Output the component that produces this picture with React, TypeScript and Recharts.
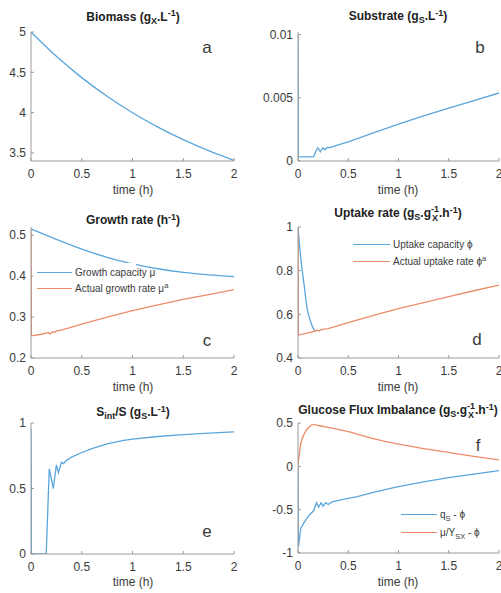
import React from 'react';
import { LineChart, Line, XAxis, YAxis } from 'recharts';

const BLUE = '#5aa6dc';
const ORANGE = '#ec8c69';
const AXIS = '#9a9a9a';
const TEXT = '#3a3a3a';
const FONT = '"Liberation Sans", Arial, Helvetica, sans-serif';

const timeTicks = [0, 0.5, 1, 1.5, 2];

// a: Biomass
const biomassTime = [0, 0.25, 0.5, 0.75, 1, 1.25, 1.5, 1.75, 2];
const biomassValues = [5, 4.698, 4.434, 4.202, 3.999, 3.821, 3.665, 3.528, 3.408];
const biomassTicks = [3.5, 4, 4.5, 5];

// b: Substrate
const substrateTime = [0, 0.004, 0.05, 0.1, 0.155, 0.175, 0.197, 0.223, 0.246, 0.266, 0.29, 0.316, 0.4, 0.5, 0.75, 1, 1.25, 1.5, 1.75, 2];
const substrateValues = [0.01, 0.00034, 0.00033, 0.00033, 0.00034, 0.0007, 0.00105, 0.00073, 0.00105, 0.00089, 0.00108, 0.00106, 0.00128, 0.00152, 0.00222, 0.00292, 0.00356, 0.00418, 0.00478, 0.00538];
const substrateTicks = [0, 0.005, 0.01];

// c: Growth rate
const growthCapTime = [0, 0.1, 0.25, 0.5, 0.75, 1, 1.25, 1.5, 1.75, 2];
const growthCapValues = [0.515, 0.505, 0.49, 0.466, 0.446, 0.43, 0.418, 0.409, 0.403, 0.399];
const actualGrowthTime = [0, 0.004, 0.1, 0.17, 0.19, 0.21, 0.23, 0.25, 0.3, 0.5, 0.75, 1, 1.25, 1.5, 1.75, 2];
const actualGrowthValues = [0.512, 0.254, 0.258, 0.262, 0.259, 0.264, 0.262, 0.266, 0.268, 0.283, 0.3, 0.316, 0.33, 0.343, 0.355, 0.367];
const growthTicks = [0.2, 0.3, 0.4, 0.5];

// d: Uptake rate
const uptakeCapTime = [0, 0.027, 0.06, 0.09, 0.125, 0.157, 0.175];
const uptakeCapValues = [1.0, 0.86, 0.737, 0.63, 0.567, 0.531, 0.522];
const actualUptakeTime = [0, 0.004, 0.1, 0.17, 0.19, 0.21, 0.23, 0.3, 0.5, 0.75, 1, 1.25, 1.5, 1.75, 2];
const actualUptakeValues = [0.98, 0.505, 0.515, 0.523, 0.528, 0.524, 0.53, 0.535, 0.562, 0.595, 0.626, 0.654, 0.681, 0.708, 0.734];
const uptakeTicks = [0.4, 0.6, 0.8, 1];

// e: Sint/S
const ratioTime = [0, 0.004, 0.15, 0.18, 0.22, 0.25, 0.27, 0.3, 0.32, 0.35, 0.4, 0.5, 0.6, 0.75, 0.9, 1, 1.25, 1.5, 1.75, 2];
const ratioValues = [0.95, 0, 0, 0.65, 0.5, 0.68, 0.62, 0.7, 0.69, 0.715, 0.74, 0.775, 0.805, 0.84, 0.865, 0.877, 0.897, 0.912, 0.923, 0.932];
const ratioTicks = [0, 0.5, 1];

// f: Glucose flux imbalance
const fluxQTime = [0, 0.004, 0.027, 0.06, 0.107, 0.157, 0.184, 0.206, 0.23, 0.25, 0.275, 0.3, 0.34, 0.45, 0.59, 0.75, 0.92, 1, 1.25, 1.5, 1.75, 2];
const fluxQValues = [0, -0.93, -0.72, -0.65, -0.57, -0.51, -0.42, -0.47, -0.42, -0.46, -0.42, -0.44, -0.41, -0.38, -0.35, -0.3, -0.255, -0.235, -0.18, -0.13, -0.09, -0.05];
const fluxMuTime = [0, 0.027, 0.06, 0.107, 0.157, 0.175, 0.25, 0.5, 0.75, 1, 1.25, 1.5, 1.75, 2];
const fluxMuValues = [0.02, 0.255, 0.37, 0.45, 0.485, 0.478, 0.46, 0.4, 0.32, 0.255, 0.205, 0.16, 0.115, 0.075];
const fluxTicks = [-1, -0.5, 0, 0.5];

const pts = (t: number[], v: number[]) => t.map((x, i) => ({ t: x, v: v[i] }));

type Box = { l: number; r: number; t: number; b: number };
type Series = { data: { t: number; v: number }[]; color: string; curve?: 'linear' | 'monotone' };

const Y_W = 50;
const PAD_T = 6;
const PAD_R = 20;
const X_H = 32;

function Panel({ box, yDomain, yTicks, series }: { box: Box; yDomain: [number, number]; yTicks: number[]; series: Series[] }) {
  const left = box.l - Y_W;
  const top = box.t - PAD_T;
  const width = box.r - box.l + Y_W + PAD_R;
  const height = box.b - box.t + PAD_T + X_H;
  const tickStyle = { fontSize: 12, fill: TEXT, fontFamily: FONT };
  return (
    <div style={{ position: 'absolute', left, top, width, height }}>
      <LineChart width={width} height={height} margin={{ top: PAD_T, right: PAD_R, bottom: 0, left: 0 }}>
        <XAxis xAxisId="x" type="number" dataKey="t" domain={[0, 2]} ticks={timeTicks} height={X_H} tickSize={-3} tickMargin={11} stroke={AXIS} tick={tickStyle} interval={0} allowDataOverflow />
        <XAxis xAxisId="xt" orientation="top" type="number" dataKey="t" domain={[0, 2]} ticks={timeTicks} height={0} tickSize={-3} tick={false} stroke={AXIS} interval={0} allowDataOverflow />
        <YAxis yAxisId="y" type="number" domain={yDomain} ticks={yTicks} width={Y_W} tickSize={-3} tickMargin={8} stroke={AXIS} tick={tickStyle} interval={0} allowDataOverflow />
        <YAxis yAxisId="yr" orientation="right" type="number" domain={yDomain} ticks={yTicks} width={0} tickSize={-3} tick={false} stroke={AXIS} interval={0} allowDataOverflow />
        {series.map((s, i) => (
          <Line key={i} xAxisId="x" yAxisId="y" data={s.data} dataKey="v" type={s.curve ?? 'linear'} stroke={s.color} strokeWidth={1.3} dot={false} activeDot={false} isAnimationActive={false} />
        ))}
      </LineChart>
    </div>
  );
}

const Sb = ({ c }: { c: string }) => <span style={{ position: 'relative', top: '0.35em', fontSize: '0.75em' }}>{c}</span>;
const Sp = ({ c }: { c: string }) => <span style={{ position: 'relative', top: '-0.5em', fontSize: '0.75em' }}>{c}</span>;
const SbSp = ({ b, p }: { b: string; p: string }) => (
  <span style={{ display: 'inline-grid', fontSize: '0.75em' }}>
    <span style={{ gridArea: '1 / 1', position: 'relative', top: '0.45em' }}>{b}</span>
    <span style={{ gridArea: '1 / 1', position: 'relative', top: '-0.6em' }}>{p}</span>
  </span>
);

function Title({ cx, cy, children }: { cx: number; cy: number; children: React.ReactNode }) {
  return (
    <div style={{ position: 'absolute', left: cx - 150, width: 300, top: cy - 8, height: 16, lineHeight: '16px', textAlign: 'center', fontWeight: 'bold', fontSize: 12, color: '#222', whiteSpace: 'nowrap' }}>
      {children}
    </div>
  );
}

function Lbl({ cx, cy, size, children }: { cx: number; cy: number; size: number; children: React.ReactNode }) {
  return (
    <div style={{ position: 'absolute', left: cx - 60, width: 120, top: cy - size * 0.6, height: size * 1.2, lineHeight: `${size * 1.2}px`, textAlign: 'center', fontSize: size, color: TEXT, whiteSpace: 'nowrap' }}>
      {children}
    </div>
  );
}

function LegendRow({ x1, x2, y, color, children }: { x1: number; x2: number; y: number; color: string; children: React.ReactNode }) {
  return (
    <>
      <div style={{ position: 'absolute', left: x1, top: y - 0.65, width: x2 - x1, height: 0, borderTop: `1.3px solid ${color}` }} />
      <div style={{ position: 'absolute', left: x2 + 3, top: y - 7, height: 14, lineHeight: '14px', fontSize: 10, color: TEXT, whiteSpace: 'nowrap' }}>{children}</div>
    </>
  );
}

const boxA: Box = { l: 31, r: 234, t: 32, b: 161 };
const boxB: Box = { l: 298, r: 499, t: 32, b: 161 };
const boxC: Box = { l: 31, r: 234, t: 227, b: 358 };
const boxD: Box = { l: 298, r: 499, t: 227, b: 358 };
const boxE: Box = { l: 31, r: 234, t: 423, b: 554 };
const boxF: Box = { l: 298, r: 499, t: 423, b: 553 };

export default function App() {
  return (
    <div style={{ position: 'absolute', left: 0, top: 0, width: 501, height: 593, overflow: 'hidden', background: '#fff', fontFamily: FONT }}>
      <Panel box={boxA} yDomain={[3.4, 5]} yTicks={biomassTicks} series={[{ data: pts(biomassTime, biomassValues), color: BLUE, curve: 'monotone' }]} />
      <Panel box={boxB} yDomain={[0, 0.0102]} yTicks={substrateTicks} series={[{ data: pts(substrateTime, substrateValues), color: BLUE }]} />
      <Panel box={boxC} yDomain={[0.2, 0.52]} yTicks={growthTicks} series={[
        { data: pts(growthCapTime, growthCapValues), color: BLUE, curve: 'monotone' },
        { data: pts(actualGrowthTime, actualGrowthValues), color: ORANGE },
      ]} />
      <Panel box={boxD} yDomain={[0.4, 1]} yTicks={uptakeTicks} series={[
        { data: pts(uptakeCapTime, uptakeCapValues), color: BLUE, curve: 'monotone' },
        { data: pts(actualUptakeTime, actualUptakeValues), color: ORANGE },
      ]} />
      <Panel box={boxE} yDomain={[0, 1]} yTicks={ratioTicks} series={[{ data: pts(ratioTime, ratioValues), color: BLUE }]} />
      <Panel box={boxF} yDomain={[-1, 0.5]} yTicks={fluxTicks} series={[
        { data: pts(fluxQTime, fluxQValues), color: BLUE },
        { data: pts(fluxMuTime, fluxMuValues), color: ORANGE, curve: 'monotone' },
      ]} />

      <Title cx={133} cy={16.5}>Biomass (g<Sb c="X" />.L<Sp c="-1" />)</Title>
      <Title cx={398} cy={16}>Substrate (g<Sb c="S" />.L<Sp c="-1" />)</Title>
      <Title cx={133} cy={220}>Growth rate (h<Sp c="-1" />)</Title>
      <Title cx={398} cy={213}>Uptake rate (g<Sb c="S" />.g<SbSp b="X" p="-1" />.h<Sp c="-1" />)</Title>
      <Title cx={133} cy={412}>S<Sb c="int" />/S (g<Sb c="S" />.L<Sp c="-1" />)</Title>
      <Title cx={398} cy={410}>Glucose Flux Imbalance (g<Sb c="S" />.g<SbSp b="X" p="-1" />.h<Sp c="-1" />)</Title>

      <Lbl cx={133} cy={190} size={12}>time (h)</Lbl>
      <Lbl cx={398} cy={190} size={12}>time (h)</Lbl>
      <Lbl cx={133} cy={387} size={12}>time (h)</Lbl>
      <Lbl cx={398} cy={387} size={12}>time (h)</Lbl>
      <Lbl cx={133} cy={582} size={12}>time (h)</Lbl>
      <Lbl cx={398} cy={582} size={12}>time (h)</Lbl>

      <Lbl cx={207} cy={48} size={17}>a</Lbl>
      <Lbl cx={480} cy={48} size={17}>b</Lbl>
      <Lbl cx={207} cy={341} size={17}>c</Lbl>
      <Lbl cx={477} cy={340} size={17}>d</Lbl>
      <Lbl cx={207} cy={532} size={17}>e</Lbl>
      <Lbl cx={478} cy={446} size={17}>f</Lbl>

      <div style={{ position: 'absolute', left: 33, top: 263, width: 103, height: 34, background: '#fff' }} />
      <LegendRow x1={37} x2={72} y={273} color={BLUE}>Growth capacity μ</LegendRow>
      <LegendRow x1={37} x2={72} y={289} color={ORANGE}>Actual growth rate μ<Sp c="a" /></LegendRow>

      <LegendRow x1={353} x2={390} y={245} color={BLUE}>Uptake capacity ϕ</LegendRow>
      <LegendRow x1={353} x2={390} y={262} color={ORANGE}>Actual uptake rate ϕ<Sp c="a" /></LegendRow>

      <LegendRow x1={401} x2={437} y={515} color={BLUE}>q<Sb c="S" /> - ϕ</LegendRow>
      <LegendRow x1={401} x2={437} y={533} color={ORANGE}>μ/Y<Sb c="SX" /> - ϕ</LegendRow>
    </div>
  );
}
